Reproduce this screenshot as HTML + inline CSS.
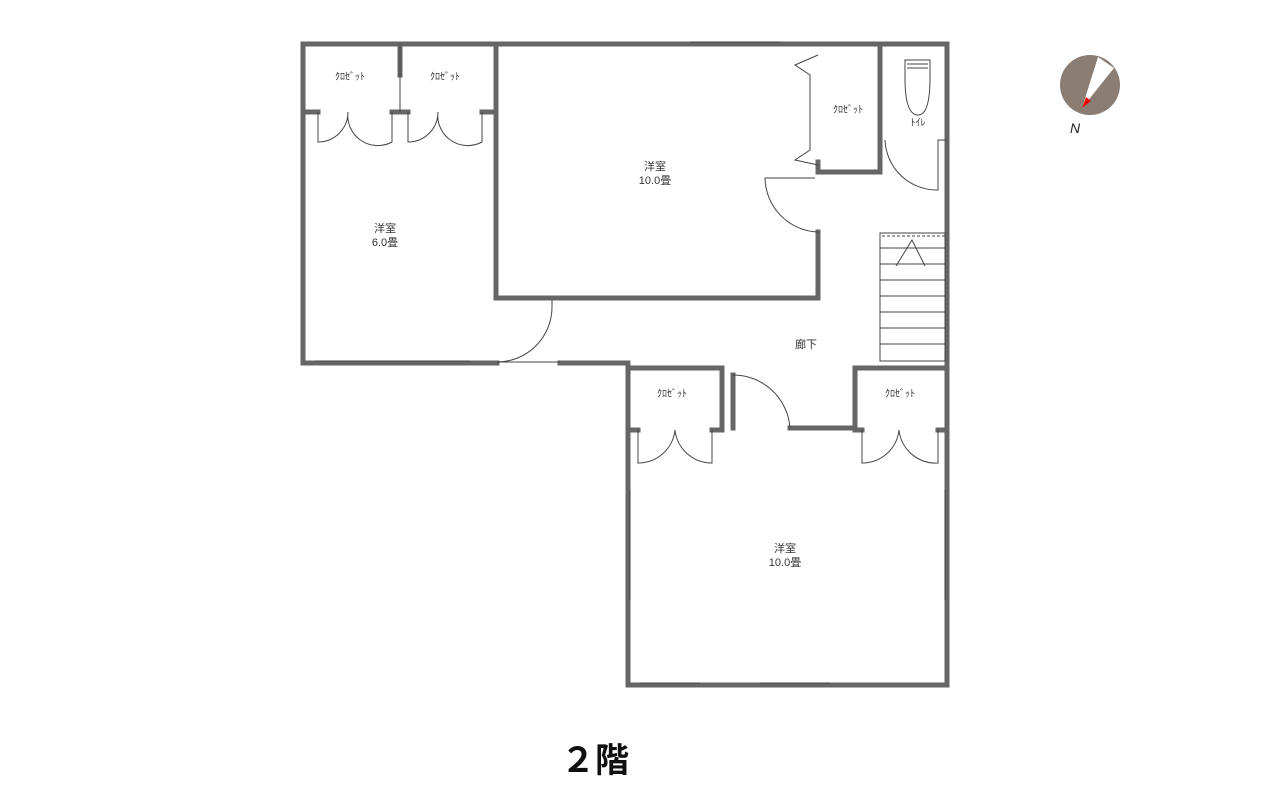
<!DOCTYPE html>
<html><head><meta charset="utf-8"><style>
body{margin:0;background:#fff;width:1280px;height:800px;overflow:hidden}
text{font-family:"Liberation Sans","Noto Sans CJK JP",sans-serif;fill:#333}
</style></head><body>
<svg width="1280" height="800" viewBox="0 0 1280 800">
<g stroke="#666" stroke-width="5" fill="none" stroke-linecap="square">
<path d="M303 44 H947 V685 H628 V368 H722 V430"/>
<path d="M303 44 V363 H497"/>
<path d="M560 363 H628"/>
<path d="M733 375 V428"/>
<path d="M790 428 H855 V368 H947"/>
<path d="M400 44 V75"/>
<path d="M306 112 H318 M392 112 H408 M482 112 H494"/>
<path d="M496 44 V298 H818 V232"/>
<path d="M818 172 H880 V44"/>
<path d="M818 172 V162"/>
<path d="M632 430 H638 M712 430 H722 M855 430 H862 M938 430 H947"/>
</g>
<g stroke="#444" stroke-width="1" fill="none">
<path d="M400 44 V112"/>
<path d="M497 362 H560"/>
<path d="M318 112 V142 A30 30 0 0 0 348 112 M392 112 V142 A30 30 0 0 1 348 112"/>
<path d="M408 112 V142 A30 30 0 0 0 438 112 M482 112 V142 A30 30 0 0 1 438 112"/>
<path d="M497 362 A55 55 0 0 0 552 307 V300"/>
<path d="M818 232 A55 55 0 0 1 765 178 H815"/>
<path d="M818 55 L795 65 L810 75 V150 L795 160 L818 165"/>
<path d="M885 140 A52 52 0 0 0 938 190 V140 H947"/>
<path d="M905 60 H930 V78 Q930 115 918 115 Q905 115 905 78 Z"/>
<path d="M907 64 H928 M907 68 H928"/>
<rect x="880" y="233" width="65" height="128"/>
<path d="M882 236 H945" stroke-dasharray="3 2"/>
<path d="M880 248 H945 M880 264 H945 M880 280 H945 M880 296 H945 M880 312 H945 M880 328 H945 M880 344 H945"/>
<path d="M896 266 L912 240 L925 266"/>
<path d="M733 375 A57 57 0 0 1 790 428"/>
<path d="M638 430 V463 A37 37 0 0 0 675 430 M712 430 V463 A37 37 0 0 1 675 430"/>
<path d="M862 430 V463 A37 37 0 0 0 899 430 M938 430 V463 A37 37 0 0 1 899 430"/>
<path d="M690 42 H780 M315 361 H470 M640 683 H700 M760 683 H830 M630 490 V600 M945 490 V600"/>
</g>
<g font-size="10" text-anchor="middle">
<text x="350" y="80">ｸﾛｾﾞｯﾄ</text>
<text x="445" y="80">ｸﾛｾﾞｯﾄ</text>
<text x="848" y="113">ｸﾛｾﾞｯﾄ</text>
<text x="918" y="126">ﾄｲﾚ</text>
<text x="672" y="397">ｸﾛｾﾞｯﾄ</text>
<text x="900" y="397">ｸﾛｾﾞｯﾄ</text>
<text x="655" y="170" font-size="11">洋室</text>
<text x="655" y="184" font-size="11">10.0畳</text>
<text x="385" y="232" font-size="11">洋室</text>
<text x="385" y="246" font-size="11">6.0畳</text>
<text x="806" y="348" font-size="11">廊下</text>
<text x="785" y="552" font-size="11">洋室</text>
<text x="785" y="566" font-size="11">10.0畳</text>
</g>
<text x="595" y="772" font-size="34" font-weight="bold" text-anchor="middle" style="fill:#111">２階</text>
<circle cx="1090" cy="85" r="30" fill="#8a7d74"/>
<path d="M1098 57 L1114 68 L1082 108 Z" fill="#fff"/>
<path d="M1082 108 L1086 97 L1091 101 Z" fill="#e00"/>
<text x="1070" y="133" font-size="14" font-style="italic" style="fill:#222">N</text>
</svg>
</body></html>
